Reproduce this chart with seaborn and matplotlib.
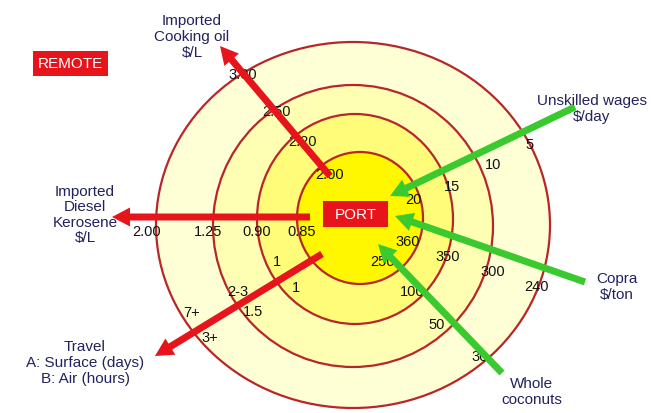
import matplotlib
matplotlib.use('Agg')
import matplotlib.pyplot as plt
from matplotlib.patches import Ellipse, Rectangle
import seaborn as sns

# --- Data: values read along each arrow, from PORT outwards ---
oil_values = ['2.00', '2.20', '2.50', '3.00']
diesel_values = ['0.85', '0.90', '1.25', '2.00']
wage_values = ['20', '15', '10', '5']
copra_values = ['360', '350', '300', '240']
coconut_values = ['250', '100', '50', '30']
surface_days = ['1', '2-3', '7+']
air_hours = ['1', '1.5', '3+']

axis_titles = {
    'oil': 'Imported\nCooking oil\n$/L',
    'diesel': 'Imported\nDiesel\nKerosene\n$/L',
    'travel': 'Travel\nA: Surface (days)\nB: Air (hours)',
    'wages': 'Unskilled wages\n$/day',
    'copra': 'Copra\n$/ton',
    'coconut': 'Whole\ncoconuts',
}

# --- Layout (pixel coordinates of the 652x414 canvas) ---
rings = [  # (cx, cy, width, height, fill) outer -> inner
    (353, 226, 394, 366, '#FFFFD6'),
    (353, 227, 280, 282, '#FFFFB4'),
    (355, 220, 196, 210, '#FFFC7A'),
    (360, 219, 126, 132, '#FFF700'),
]
arrows = {  # tail -> tip
    'oil': ((330, 177), (220, 47)),
    'diesel': ((310, 218), (112, 218)),
    'travel': ((322, 255), (155, 357)),
    'wages': ((575, 108), (390, 197)),
    'copra': ((585, 283), (395, 217)),
    'coconut': ((502, 374), (378, 245)),
}
title_pos = {
    'oil': (192, 37), 'diesel': (85, 215), 'travel': (85, 363),
    'wages': (592, 109), 'copra': (617, 287), 'coconut': (532, 392),
}
value_pos = {
    'oil': [(330, 175), (303, 142), (277, 112), (243, 75)],
    'diesel': [(302, 232), (257, 232), (208, 232), (147, 232)],
    'wages': [(413, 200), (452, 187), (493, 165), (530, 145)],
    'copra': [(408, 242), (448, 257), (493, 272), (537, 287)],
    'coconut': [(383, 262), (412, 292), (437, 325), (480, 357)],
    'surface': [(277, 262), (238, 292), (192, 313)],
    'air': [(296, 288), (253, 312), (210, 338)],
}

RED = '#E8141B'
GREEN = '#3AC92E'
NAVY = '#22225E'
RING = '#B8262A'

sns.set_theme(style='white')
plt.rcParams['font.family'] = ['Liberation Sans', 'DejaVu Sans']

fig = plt.figure(figsize=(6.52, 4.14), dpi=100)
ax = fig.add_axes([0, 0, 1, 1])
ax.set_xlim(0, 652)
ax.set_ylim(414, 0)
ax.set_aspect('equal')
ax.axis('off')

# concentric zones
for cx, cy, w, h, fill in rings:
    ax.add_patch(Ellipse((cx, cy), w, h, facecolor=fill, edgecolor=RING,
                         linewidth=1.6, zorder=1))

# values along each axis
groups = [('oil', oil_values), ('diesel', diesel_values), ('wages', wage_values),
          ('copra', copra_values), ('coconut', coconut_values),
          ('surface', surface_days), ('air', air_hours)]
for key, vals in groups:
    for (x, y), v in zip(value_pos[key], vals):
        ax.text(x, y, v, ha='center', va='center', fontsize=10.5,
                color='#111111', zorder=2)

# arrows
for key, ((x0, y0), (x1, y1)) in arrows.items():
    col = GREEN if key in ('wages', 'copra', 'coconut') else RED
    ax.arrow(x0, y0, x1 - x0, y1 - y0, width=7, head_width=19, head_length=18,
             length_includes_head=True, color=col, linewidth=0, zorder=3)

# axis titles
for key, (x, y) in title_pos.items():
    ax.text(x, y, axis_titles[key], ha='center', va='center', fontsize=11,
            color=NAVY, linespacing=1.15, zorder=4)

# PORT / REMOTE boxes
for label, (x, y, w, h) in [('REMOTE', (33, 52, 75, 25)), ('PORT', (323, 202, 65, 26))]:
    ax.add_patch(Rectangle((x, y), w, h, facecolor=RED, edgecolor='none', zorder=5))
    ax.text(x + w / 2, y + h / 2, label, ha='center', va='center', fontsize=11,
            color='white', zorder=6)

fig.savefig('out.png', dpi=100)
